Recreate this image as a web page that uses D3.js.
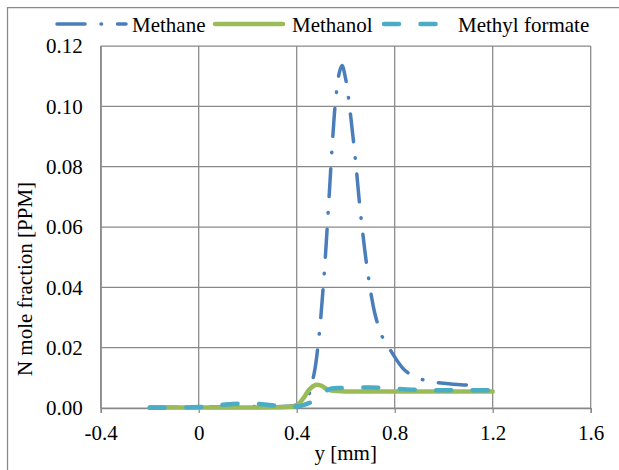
<!DOCTYPE html>
<html>
<head>
<meta charset="utf-8">
<script src="https://cdn.jsdelivr.net/npm/d3@7"></script>
</head>
<body style="margin:0">
<div id="chart"></div>
<script>
// data
var seriesNames = ["Methane", "Methanol", "Methyl formate"];

var methaneX = [-0.2, 0, 0.2, 0.4, 0.44, 0.47, 0.49, 0.51, 0.53, 0.545, 0.56, 0.575, 0.585, 0.6, 0.62, 0.64, 0.66, 0.69, 0.72, 0.75, 0.78, 0.84, 0.9, 0.95, 1.0, 1.07, 1.14];
var methaneY = [0.0003, 0.0003, 0.0005, 0.001, 0.003, 0.011, 0.023, 0.042, 0.067, 0.087, 0.103, 0.1115, 0.1135, 0.109, 0.097, 0.082, 0.065, 0.045, 0.031, 0.0235, 0.0195, 0.0126, 0.0098, 0.0087, 0.0082, 0.0077, 0.0075];

var methanolX = [-0.2, 0, 0.2, 0.35, 0.4, 0.41, 0.43, 0.45, 0.48, 0.5, 0.53, 0.57, 0.6, 0.8, 1.0, 1.2];
var methanolY = [0.0002, 0.0002, 0.0002, 0.0003, 0.0008, 0.0015, 0.0035, 0.006, 0.0077, 0.0074, 0.006, 0.0056, 0.0055, 0.0055, 0.0055, 0.0055];

var formateX = [-0.2, 0, 0.1, 0.2, 0.3, 0.38, 0.42, 0.46, 0.5, 0.54, 0.6, 0.7, 0.8, 0.9, 1.0, 1.1, 1.2];
var formateY = [0.0001, 0.0003, 0.0011, 0.0015, 0.0009, 0.0004, 0.0008, 0.002, 0.0048, 0.0064, 0.0066, 0.0068, 0.0064, 0.006, 0.0059, 0.0059, 0.0059];

var xTicks = [-0.4, 0, 0.4, 0.8, 1.2, 1.6];
var xTickLabels = ["-0.4", "0", "0.4", "0.8", "1.2", "1.6"];
var yTicks = [0, 0.02, 0.04, 0.06, 0.08, 0.10, 0.12];
var yTickLabels = ["0.00", "0.02", "0.04", "0.06", "0.08", "0.10", "0.12"];

var W = 619, H = 470;
var plot = {left: 100.7, right: 590.7, top: 46, bottom: 408};
var gridColor = "#898989";

var svg = d3.select("#chart").append("svg")
    .attr("width", W)
    .attr("height", H)
    .style("font-family", "'Liberation Serif'")
    .style("font-size", "21px");

// chart frame (only left and top edges fall inside the picture)
svg.append("path")
    .attr("d", "M7.5," + H + "V7.5H" + W)
    .attr("fill", "none")
    .attr("stroke", gridColor)
    .attr("stroke-width", 1.25);

var x = d3.scaleLinear().domain([-0.4, 1.6]).range([plot.left, plot.right]);
var y = d3.scaleLinear().domain([0, 0.12]).range([plot.bottom, plot.top]);

// grid
svg.append("g")
    .selectAll("line")
    .data(yTicks)
    .enter()
    .append("line")
    .attr("x1", plot.left).attr("x2", plot.right)
    .attr("y1", function(d){ return y(d); })
    .attr("y2", function(d){ return y(d); })
    .attr("stroke", gridColor)
    .attr("stroke-width", 1.25);

svg.append("g")
    .selectAll("line")
    .data(xTicks)
    .enter()
    .append("line")
    .attr("y1", plot.top).attr("y2", plot.bottom)
    .attr("x1", function(d){ return x(d); })
    .attr("x2", function(d){ return x(d); })
    .attr("stroke", gridColor)
    .attr("stroke-width", 1.25);

// axes
var xAxis = svg.append("g")
    .attr("transform", "translate(0," + plot.bottom + ")")
    .call(d3.axisBottom(x)
        .tickValues(xTicks)
        .tickSize(5)
        .tickPadding(12)
        .tickFormat(function(d, i){ return xTickLabels[i]; }));

var yAxis = svg.append("g")
    .attr("transform", "translate(" + plot.left + ",0)")
    .call(d3.axisLeft(y)
        .tickValues(yTicks)
        .tickSize(0)
        .tickPadding(18)
        .tickFormat(function(d, i){ return yTickLabels[i]; }));

[xAxis, yAxis].forEach(function(a){
    a.attr("font-family", null).attr("font-size", null);
    a.select(".domain").attr("stroke", gridColor).attr("stroke-width", 1.25);
    a.selectAll(".tick line").attr("stroke", gridColor).attr("stroke-width", 1.25);
    a.selectAll("text")
        .attr("fill", "#000")
        .style("font-family", "'Liberation Serif'")
        .style("font-size", "21px");
});

// axis titles
svg.append("text")
    .attr("x", (plot.left + plot.right) / 2)
    .attr("y", 460)
    .attr("text-anchor", "middle")
    .style("font-family", "'Liberation Serif'")
    .text("y [mm]");

svg.append("text")
    .attr("transform", "translate(32,279) rotate(-90)")
    .attr("text-anchor", "middle")
    .style("font-family", "'Liberation Serif'")
    .text("N mole fraction [PPM]");

// series
var series = [
    {name: seriesNames[0], xs: methaneX, ys: methaneY, color: "#4A7EBB", width: 3.5, dash: "28,16,0.5,16"},
    {name: seriesNames[1], xs: methanolX, ys: methanolY, color: "#9BBB59", width: 4.5, dash: null},
    {name: seriesNames[2], xs: formateX, ys: formateY, color: "#4BACC6", width: 4.5, dash: "15,21.5"}
];

var line = d3.line()
    .x(function(p){ return x(p[0]); })
    .y(function(p){ return y(p[1]); })
    .curve(d3.curveCatmullRom.alpha(0.5));

svg.append("g")
    .selectAll("path")
    .data(series)
    .enter()
    .append("path")
    .attr("d", function(s){ return line(d3.zip(s.xs, s.ys)); })
    .attr("fill", "none")
    .attr("stroke", function(s){ return s.color; })
    .attr("stroke-width", function(s){ return s.width; })
    .attr("stroke-linecap", "round")
    .attr("stroke-linejoin", "round")
    .attr("stroke-dasharray", function(s){ return s.dash; });

// legend
var legendPos = [
    {x1: 57, x2: 126, tx: 132},
    {x1: 215, x2: 283, tx: 292},
    {x1: 384, x2: 437, tx: 458}
];

var leg = svg.append("g")
    .selectAll("g")
    .data(series)
    .enter()
    .append("g");

leg.append("line")
    .attr("x1", function(s, i){ return legendPos[i].x1; })
    .attr("x2", function(s, i){ return legendPos[i].x2; })
    .attr("y1", 24).attr("y2", 24)
    .attr("stroke", function(s){ return s.color; })
    .attr("stroke-width", function(s){ return s.width; })
    .attr("stroke-linecap", "round")
    .attr("stroke-dasharray", function(s){ return s.dash; });

leg.append("text")
    .attr("x", function(s, i){ return legendPos[i].tx; })
    .attr("y", 32)
    .style("font-family", "'Liberation Serif'")
    .text(function(s){ return s.name; });
</script>
</body>
</html>
